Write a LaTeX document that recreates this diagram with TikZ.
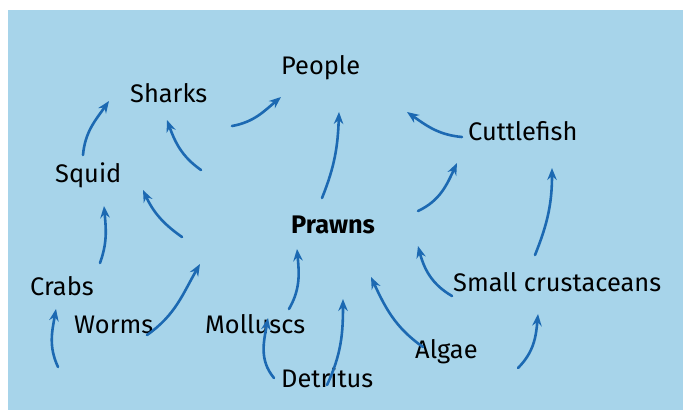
\documentclass[tikz,border=0pt]{standalone}
\usepackage{fontspec}
\setmainfont{Fira Sans}
\usetikzlibrary{arrows.meta}
\definecolor{bgblue}{HTML}{A7D4EA}
\definecolor{arrblue}{HTML}{1C69B2}
\begin{document}
\begin{tikzpicture}[x=1pt,y=1pt,
  lbl/.style={anchor=base west,inner sep=0pt,font=\fontsize{25.4}{30}\selectfont},
  feed/.style={draw=arrblue,line width=2.6pt,line cap=round,
    -{Stealth[length=12pt,width=9.5pt,inset=4pt]}}]
\useasboundingbox (0,0) rectangle (683,410);
\fill[bgblue] (8,0) rectangle (683,400);
% labels (x, 410 - baseline)
\node[lbl] (people) at (281,335) {People};
\node[lbl] (sharks) at (130,307) {Sharks};
\node[lbl] (squid) at (55,227) {Squid};
\node[lbl] (cuttle) at (468,269) {Cuttlefish};
\node[lbl,font=\fontsize{25.4}{30}\selectfont\bfseries] (prawns) at (291,176) {Prawns};
\node[lbl] (crabs) at (30,114) {Crabs};
\node[lbl] (worms) at (74,76) {Worms};
\node[lbl] (molluscs) at (205,76) {Molluscs};
\node[lbl] (detritus) at (281,23) {Detritus};
\node[lbl] (algae) at (415,52) {Algae};
\node[lbl] (smallc) at (453,118) {Small crustaceans};
% arrow end points
\coordinate (a1) at (83,255);  \coordinate (b1) at (109,309);
\coordinate (a2) at (232,284); \coordinate (b2) at (281,313);
\coordinate (a3) at (201,240); \coordinate (b3) at (167,290);
\coordinate (a4) at (182,173); \coordinate (b4) at (143,220);
\coordinate (a5) at (322,212); \coordinate (b5) at (339,298);
\coordinate (a6) at (462,273); \coordinate (b6) at (407,298);
\coordinate (a7) at (418,199); \coordinate (b7) at (457,247);
\coordinate (a8) at (535,155); \coordinate (b8) at (552,242);
\coordinate (a9) at (452,114); \coordinate (b9) at (418,164);
\coordinate (a10) at (518,42); \coordinate (b10) at (538,96);
\coordinate (a11) at (423,63); \coordinate (b11) at (371,133);
\coordinate (a12) at (327,25); \coordinate (b12) at (343,111);
\coordinate (a13) at (274,32); \coordinate (b13) at (268,92);
\coordinate (a14) at (289,101); \coordinate (b14) at (297,161);
\coordinate (a15) at (147,75); \coordinate (b15) at (200,146);
\coordinate (a16) at (100,147); \coordinate (b16) at (104,204);
\coordinate (a17) at (58,43); \coordinate (b17) at (56,101);
% arrows
\draw[feed] (a1) to[out=85,in=235] (b1);
\draw[feed] (a2) to[out=10,in=220] (b2);
\draw[feed] (a3) to[out=145,in=290] (b3);
\draw[feed] (a4) to[out=145,in=295] (b4);
\draw[feed] (a5) to[out=68,in=268] (b5);
\draw[feed] (a6) to[out=175,in=-35] (b6);
\draw[feed] (a7) to[out=25,in=245] (b7);
\draw[feed] (a8) to[out=68,in=270] (b8);
\draw[feed] (a9) to[out=150,in=285] (b9);
\draw[feed] (a10) to[out=45,in=265] (b10);
\draw[feed] (a11) to[out=145,in=295] (b11);
\draw[feed] (a12) to[out=65,in=270] (b12);
\draw[feed] (a13) to[out=130,in=260] (b13);
\draw[feed] (a14) to[out=60,in=275] (b14);
\draw[feed] (a15) to[out=35,in=240] (b15);
\draw[feed] (a16) to[out=70,in=275] (b16);
\draw[feed] (a17) to[out=115,in=260] (b17);
\end{tikzpicture}
\end{document}
